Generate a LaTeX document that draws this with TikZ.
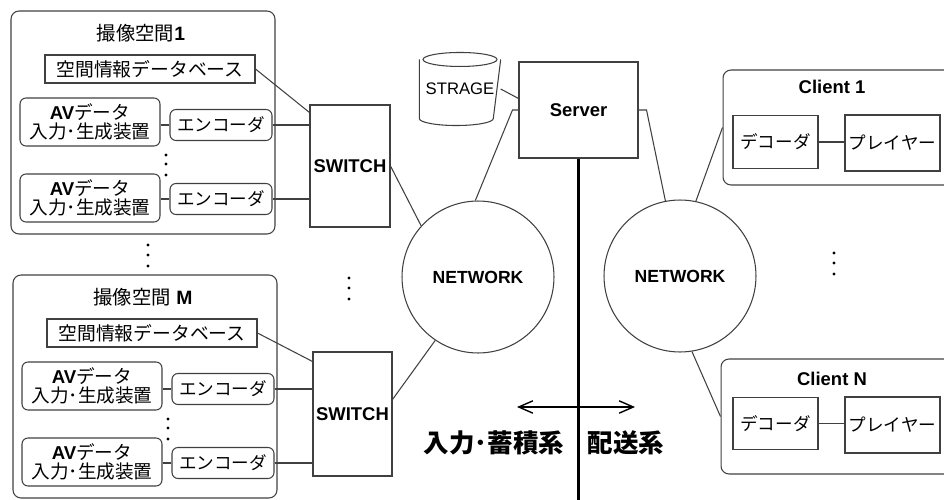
\documentclass[tikz,border=0pt]{standalone}
\usepackage{fontspec}
\setmainfont{Liberation Sans}
\newfontfamily\jp{Noto Sans CJK JP}
\usetikzlibrary{calc,arrows.meta}

\begin{document}
\begin{tikzpicture}[x=0.02cm,y=-0.02cm,line width=.6pt,
    box/.style={draw=black!75,rectangle,inner sep=1pt,font=\jp\fontsize{10}{10.5}\selectfont},
    rbox/.style={box,rounded corners=.12cm},
    grpbox/.style={draw=black!75,rounded corners=.16cm},
    swbox/.style={box,font=\bfseries\fontsize{10.5}{12}\selectfont},
    netnode/.style={draw=black!75,circle,minimum size=3.04cm,font=\bfseries\fontsize{10}{12}\selectfont},
    ttl/.style={font=\bfseries\fontsize{10.5}{12}\selectfont},
    bigtxt/.style={font=\jp\bfseries\fontsize{14.5}{16}\selectfont}]

  \useasboundingbox (0,0) rectangle (944,500);
  \clip (0,0) rectangle (944,500);

  %%%% switches and networks first, so the groups can reach them %%%%
  \node[swbox,minimum width=1.6cm,minimum height=2.44cm] (sw1) at (350,166) {SWITCH};
  \node[swbox,minimum width=1.58cm,minimum height=2.48cm] (swM) at (352.5,414) {SWITCH};
  \node[netnode] (net1) at (478,277) {NETWORK};
  \node[netnode] (net2) at (680,276) {NETWORK};

  %%%% imaging spaces 1 ... M %%%%
  \foreach \g/\dx/\dy/\num/\off in {1/0/0/1/8, M/2/264/{~M}/10}{
    \begin{scope}[shift={(\dx,\dy)}]
      \node[grpbox,minimum width=5.28cm,minimum height=4.46cm] (grp\g) at (143,122.5) {};
      \node (ttl\g) at (141,33) {{\jp\fontsize{11}{12}\selectfont 撮像空間}{\bfseries\fontsize{11}{12}\selectfont\num}};
      \node[box,font=\jp\fontsize{10.7}{12}\selectfont,minimum width=4.2cm,minimum height=.56cm] (db\g) at (150,69) {空間情報データベース};
      %% AV device + encoder pairs
      \foreach \k/\ya/\yb in {a/122/125, b/198/199}{
        \node[rbox,align=center,font=\jp\fontsize{10.6}{10.4}\selectfont,minimum width=2.8cm,minimum height=.96cm] (av\g\k) at (90,\ya)
          {{\rmfamily\bfseries AV}データ\\入力･生成装置};
        \node[rbox,minimum width=2.04cm,minimum height=.62cm] (enc\g\k) at (221,\yb) {エンコーダ};
        \draw[black!75] (enc\g\k.west) -- (enc\g\k.west -| av\g\k.east);
        \draw[black!75] (enc\g\k.east) -- (enc\g\k.east -| sw\g.west);
      }
      \draw[black!75] (db\g.east) -- ($(sw\g.north west)+(0,\off)$);
      %% dots between the pairs
      \foreach \d in {0,9,20}
        \fill (166,155+\d) circle (1.6);
    \end{scope}
  }

  %% dots between the groups, switches and clients
  \foreach \d in {0,10,21}{
    \fill (148,245+\d) circle (1.6);
    \fill (349,278+\d) circle (1.6);
    \fill (834,253+\d) circle (1.6);
  }

  %%%% storage and server %%%%
  \node[minimum width=1.48cm,minimum height=1.44cm,font=\fontsize{9.5}{11}\selectfont] (stg) at (460,89) {STRAGE};
  \draw[black!75] ([yshift=-.14cm]stg.north west) -- ([yshift=.14cm]stg.south west)
    arc[start angle=180,end angle=360,x radius=.74cm,y radius=.14cm] -- ([yshift=-.14cm]stg.north east);
  \draw[black!75] ([yshift=-.14cm]stg.north) ellipse [x radius=.74cm,y radius=.14cm];
  \node[swbox,minimum width=2.38cm,minimum height=1.92cm] (srv) at (578.5,110) {Server};

  %%%% clients 1 ... N %%%%
  \foreach \c/\xc/\yc/\yt/\yd/\yp in {1/843/127.5/87/142/143, N/841/416.5/379/423.5/425}{
    \node[grpbox,minimum width=4.8cm,minimum height=2.3cm] (cl\c) at (\xc,\yc) {};
    \node[ttl] (clt\c) at (832,\yt) {Client \c};
    \node[box,minimum width=1.7cm,minimum height=1.05cm] (dec\c) at (775.5,\yd) {デコーダ};
    \node[box,minimum width=1.9cm,minimum height=1.12cm] (ply\c) at (892.5,\yp) {プレイヤー};
    \draw[black!75] (dec\c.east) -- (dec\c.east -| ply\c.west);
  }

  %%%% connectors %%%%
  \draw[black!75] (sw1.east) -- (net1.138);
  \draw[black!75] ($(swM.north east)+(0,48)$) -- (net1.236);
  \draw[black!75] (net1.92) -- ($(srv.west)+(-6,0)$) -- (srv.west);
  \draw[black!75] (stg.east) -- ($(srv.north west)+(0,37)$);
  \draw[black!75] (srv.east) -- ($(srv.east)+(8,0)$) -- (net2.101);
  \draw[black!75] (net2.78) -- (cl1.west);
  \draw[black!75] (net2.279) -- (clN.west);

  %% divider and direction arrow
  \coordinate (base) at (576,500);
  \draw[line width=1.2pt] (srv.south) -- (srv.south |- base);
  \coordinate (arL) at (517,407);
  \coordinate (arR) at (635,407);
  \draw[line width=.8pt,{Straight Barb[length=8pt,width=7pt]}-{Straight Barb[length=8pt,width=7pt]}] (arL) -- (arR);
  \node[bigtxt] (inp) at (494,443) {入力･蓄積系};
  \node[bigtxt] (dlv) at (626,443) {配送系};

\end{tikzpicture}
\end{document}
